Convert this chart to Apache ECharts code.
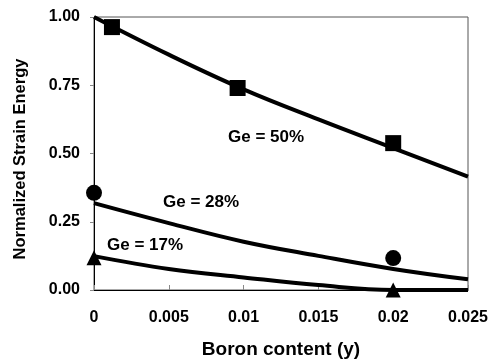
<!DOCTYPE html>
<html>
<head>
    <meta charset="utf-8">
    <title>ECharts</title>
    <script src="https://cdn.jsdelivr.net/npm/echarts@6/dist/echarts.min.js"></script>
</head>
<style>
html,
body {
    margin: 0px;
    width: 490px;
    height: 360px;
    background: #fff;
}
div#main {
    width: 490px;
    height: 360px;
}
</style>
<body>
    <div id="main"></div>
    <script type="text/javascript">
        // fitted curves
        var curveX = [0, 0.005, 0.01, 0.015, 0.02, 0.025];
        var fit50 = [1.0, 0.862, 0.735, 0.625, 0.52, 0.415];
        var fit28 = [0.318, 0.245, 0.177, 0.125, 0.077, 0.039];
        var fit17 = [0.124, 0.077, 0.046, 0.018, 0.0, 0.0];

        // measured points
        var ge50X = [0.0012, 0.0096, 0.02];
        var ge50Y = [0.963, 0.74, 0.538];
        var ge28X = [0, 0.02];
        var ge28Y = [0.356, 0.117];
        var ge17X = [0, 0.02];
        var ge17Y = [0.118, 0.0];

        var labels = ['Ge = 50%', 'Ge = 28%', 'Ge = 17%'];
        var yTitle = 'Normalized Strain Energy';

        function pairs(xs, ys) {
            return xs.map(function (x, i) { return [x, ys[i]]; });
        }

        function curve(ys) {
            return {
                type: 'line',
                data: pairs(curveX, ys),
                smooth: 0.4,
                showSymbol: false,
                lineStyle: { color: '#000', width: 4 },
                z: 2
            };
        }

        function points(xs, ys, sym, size) {
            return {
                type: 'scatter',
                data: pairs(xs, ys),
                symbol: sym,
                symbolSize: size,
                itemStyle: { color: '#000', opacity: 1 },
                z: 3
            };
        }

        var font = 'Liberation Sans, Arial, sans-serif';
        var myChart = echarts.init(document.getElementById('main'));
        myChart.setOption({
            animation: false,
            grid: {
                left: 94, top: 17, width: 374, height: 273,
                outerBoundsMode: 'none', containLabel: false,
                show: true, borderColor: '#555', borderWidth: 1
            },
            xAxis: {
                type: 'value', min: 0, max: 0.025, interval: 0.005,
                name: 'Boron content (y)', nameLocation: 'middle', nameGap: 50,
                nameTextStyle: { fontFamily: font, fontWeight: 'bold', fontSize: 19, color: '#000' },
                axisLine: { lineStyle: { color: '#000', width: 1 } },
                axisTick: { inside: true, length: 5, lineStyle: { color: '#888' } },
                axisLabel: {
                    fontFamily: font, fontWeight: 'bold', fontSize: 16, color: '#000', margin: 20,
                    formatter: function (v) { return String(+v.toFixed(3)); }
                },
                splitLine: { show: false }
            },
            yAxis: {
                type: 'value', min: 0, max: 1, interval: 0.25,
                axisLine: { show: true, lineStyle: { color: '#000', width: 1 } },
                axisTick: { show: true, length: 4, lineStyle: { color: '#888' } },
                axisLabel: {
                    fontFamily: font, fontWeight: 'bold', fontSize: 16, color: '#000', margin: 14,
                    formatter: function (v) { return v.toFixed(2); }
                },
                splitLine: { show: false }
            },
            graphic: [
                {
                    type: 'text', x: 20, y: 159, rotation: Math.PI / 2,
                    style: { text: yTitle, font: 'bold 16.5px ' + font, fill: '#000', align: 'center', verticalAlign: 'middle' }
                },
                { type: 'text', left: 228, top: 129, style: { text: labels[0], font: 'bold 17px ' + font, fill: '#000' } },
                { type: 'text', left: 163, top: 194, style: { text: labels[1], font: 'bold 17px ' + font, fill: '#000' } },
                { type: 'text', left: 107, top: 237, style: { text: labels[2], font: 'bold 17px ' + font, fill: '#000' } }
            ],
            series: [
                curve(fit50),
                curve(fit28),
                curve(fit17),
                points(ge50X, ge50Y, 'rect', 16),
                points(ge28X, ge28Y, 'circle', 16),
                points(ge17X, ge17Y, 'triangle', 15)
            ]
        });
    </script>
</body>
</html>
